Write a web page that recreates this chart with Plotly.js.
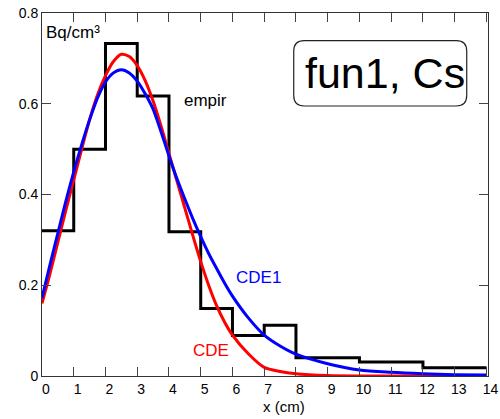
<!DOCTYPE html>
<html>
<head>
<meta charset="utf-8">
<script src="https://cdn.plot.ly/plotly-3.0.1.min.js"></script>
<style>html,body{margin:0;padding:0;background:#fff;}#chart{width:500px;height:419px;}</style>
</head>
<body>
<div id="chart"></div>
<script>
// Empirical histogram (step) — bin edges and values
const binEdges = [0, 1, 2, 3, 4, 5, 6, 7, 8, 10, 12, 14];
const empirValues = [0.32, 0.50, 0.733, 0.617, 0.318, 0.149, 0.089, 0.112, 0.040, 0.031, 0.018];

// CDE curve (red)
const cdeX = [0, 0.25, 0.5, 0.75, 1, 1.25, 1.5, 1.75, 2, 2.25, 2.5, 2.75, 3, 3.25, 3.5, 3.75, 4, 4.25, 4.5, 4.75, 5, 5.25, 5.5, 5.75, 6, 6.5, 7, 7.5, 8, 9, 10, 12, 14];
const cdeY = [0.16, 0.225, 0.295, 0.365, 0.432, 0.500, 0.565, 0.620, 0.662, 0.693, 0.709, 0.704, 0.684, 0.651, 0.606, 0.551, 0.490, 0.430, 0.370, 0.310, 0.252, 0.200, 0.155, 0.119, 0.090, 0.049, 0.019, 0.010, 0.005, 0.001, 0.0, 0.0, 0.0];

// CDE1 curve (blue)
const cde1X = [0, 0.25, 0.5, 0.75, 1, 1.25, 1.5, 1.75, 2, 2.25, 2.5, 2.75, 3, 3.25, 3.5, 3.75, 4, 4.25, 4.5, 4.75, 5, 5.25, 5.5, 5.75, 6, 6.5, 7, 7.5, 8, 9, 10, 11, 12, 13, 14];
const cde1Y = [0.172, 0.245, 0.315, 0.385, 0.450, 0.510, 0.565, 0.613, 0.648, 0.668, 0.675, 0.668, 0.650, 0.622, 0.588, 0.538, 0.485, 0.435, 0.390, 0.347, 0.307, 0.270, 0.237, 0.205, 0.176, 0.128, 0.090, 0.066, 0.048, 0.027, 0.013, 0.008, 0.005, 0.003, 0.002];

const xTickVals = [0,1,2,3,4,5,6,7,8,9,10,11,12,13,14];
const yTickVals = [0, 0.2, 0.4, 0.6, 0.8];
const yTickText = ['0', '0.2', '0.4', '0.6', '0.8'];

const stepY = empirValues.concat([empirValues[empirValues.length - 1]]);

const traces = [
  {x: binEdges, y: stepY, type: 'scatter', mode: 'lines', line: {shape: 'hv', color: '#000', width: 3}, name: 'empir', hoverinfo: 'skip'},
  {x: cdeX, y: cdeY, type: 'scatter', mode: 'lines', line: {shape: 'spline', smoothing: 0.8, color: '#ff0000', width: 3}, name: 'CDE'},
  {x: cde1X, y: cde1Y, type: 'scatter', mode: 'lines', line: {shape: 'spline', smoothing: 0.8, color: '#0000ff', width: 3}, name: 'CDE1'}
];

// rounded label box (data coords)
const bx0 = 7.93, bx1 = 13.38, by0 = 0.595, by1 = 0.739, rx = 0.33, ry = 0.023;
const boxPath = `M ${bx0+rx},${by0} L ${bx1-rx},${by0} Q ${bx1},${by0} ${bx1},${by0+ry} L ${bx1},${by1-ry} Q ${bx1},${by1} ${bx1-rx},${by1} L ${bx0+rx},${by1} Q ${bx0},${by1} ${bx0},${by1-ry} L ${bx0},${by0+ry} Q ${bx0},${by0} ${bx0+rx},${by0} Z`;

const FONT = 'Arial, "Liberation Sans", Helvetica, sans-serif';

const layout = {
  width: 500, height: 419,
  margin: {l: 42, r: 12, t: 13, b: 43},
  paper_bgcolor: '#fff', plot_bgcolor: '#fff',
  showlegend: false,
  font: {family: FONT, size: 14, color: '#000'},
  xaxis: {
    range: [0, 14.05], tickvals: xTickVals, ticks: 'inside', ticklen: 9, tickcolor: '#444', tickwidth: 1,
    showline: true, linecolor: '#333', linewidth: 1, mirror: 'ticks', showgrid: false, zeroline: false,
    tickfont: {size: 14, color: '#000'}, ticklabelshift: 4, fixedrange: true
  },
  yaxis: {
    range: [0, 0.8], tickvals: yTickVals, ticktext: yTickText, ticks: 'inside', ticklen: 9, tickcolor: '#444', tickwidth: 1,
    showline: true, linecolor: '#333', linewidth: 1, mirror: 'ticks', showgrid: false, zeroline: false,
    tickfont: {size: 14, color: '#000'}, fixedrange: true
  },
  shapes: [
    {type: 'path', xref: 'x', yref: 'y', path: boxPath, line: {color: '#222', width: 1.2}, fillcolor: 'rgba(0,0,0,0)'}
  ],
  annotations: [
    {x: 0.06, y: 0.756, xref: 'x', yref: 'y', text: 'Bq/cm³', showarrow: false, xanchor: 'left', yanchor: 'middle', font: {size: 17, color: '#000'}},
    {x: 4.41, y: 0.608, xref: 'x', yref: 'y', text: 'empir', showarrow: false, xanchor: 'left', yanchor: 'middle', font: {size: 17, color: '#000'}},
    {x: 6.06, y: 0.217, xref: 'x', yref: 'y', text: 'CDE1', showarrow: false, xanchor: 'left', yanchor: 'middle', font: {size: 17, color: '#0000ff'}},
    {x: 4.70, y: 0.057, xref: 'x', yref: 'y', text: 'CDE', showarrow: false, xanchor: 'left', yanchor: 'middle', font: {size: 17, color: '#ff0000'}},
    {x: 8.22, y: 0.667, xref: 'x', yref: 'y', text: 'fun1, Cs', showarrow: false, xanchor: 'left', yanchor: 'middle', font: {size: 43, color: '#000'}},
    {x: 0.543, y: -0.084, xref: 'paper', yref: 'paper', text: 'x (cm)', showarrow: false, xanchor: 'center', yanchor: 'middle', font: {size: 15, color: '#000'}}
  ]
};

Plotly.newPlot('chart', traces, layout, {displayModeBar: false, staticPlot: true});
</script>
</body>
</html>
